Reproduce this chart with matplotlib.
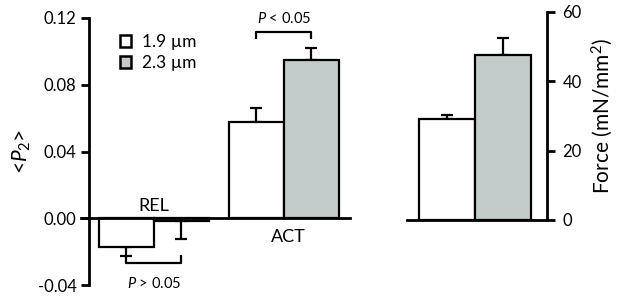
import matplotlib
matplotlib.use("Agg")
import matplotlib.pyplot as plt
from matplotlib.patches import Patch

plt.rcParams['font.family'] = ['Lato', 'DejaVu Sans']
plt.rcParams['mathtext.fontset'] = 'custom'
plt.rcParams['mathtext.rm'] = 'Lato'
plt.rcParams['mathtext.it'] = 'Lato:italic'

# ---- data ----
groups = ["REL", "ACT"]
series_labels = ["1.9 \u00b5m", "2.3 \u00b5m"]
p2_short = [-0.0175, 0.0578]     # 1.9 um
p2_short_err = [0.0053, 0.0080]
p2_long = [-0.0015, 0.0948]      # 2.3 um
p2_long_err = [0.0111, 0.0073]
force = [29.0, 47.6]
force_err = [1.2, 5.0]
left_yticks = [-0.04, 0.00, 0.04, 0.08, 0.12]
right_yticks = [0, 20, 40, 60]

white = "#ffffff"
gray = "#c3cccb"
lw = 1.6

W, H = 617, 296
fig = plt.figure(figsize=(W / 100, H / 100), dpi=100)

# ---- left panel ----
ax = fig.add_axes([89 / W, 1 - 285 / H, (350 - 89) / W, (285 - 18) / H])
width = 0.423
xs = [0, 1]
for i in range(2):
    v1, e1 = p2_short[i], p2_short_err[i]
    v2, e2 = p2_long[i], p2_long_err[i]
    x1 = xs[i] - width / 2
    x2 = xs[i] + width / 2
    ax.bar(x1, v1, width, color=white, edgecolor="black", linewidth=lw, zorder=2)
    ax.bar(x2, v2, width, color=gray, edgecolor="black", linewidth=lw, zorder=2)
    for x, v, e in ((x1, v1, e1), (x2, v2, e2)):
        yerr = [[e], [0]] if v < 0 else [[0], [e]]
        ax.errorbar(x, v, yerr=yerr, fmt="none", ecolor="black", elinewidth=lw,
                    capsize=4.5, capthick=lw, zorder=1)
ax.axhline(0, color="black", lw=2.0, zorder=3, xmin=-0.03, clip_on=False)
ax.set_xlim(-0.5, 1.508)
ax.set_ylim(-0.04, 0.12)
ax.set_yticks(left_yticks)
ax.set_yticklabels([f"{t:.2f}" for t in left_yticks])
ax.set_xticks([])
for s in ("top", "right", "bottom"):
    ax.spines[s].set_visible(False)
ax.spines["left"].set_linewidth(2.0)
ax.tick_params(axis="y", length=6, width=2.0, labelsize=12, pad=3)
ax.set_ylabel(r"<$\mathit{P}_2$>", fontsize=15, labelpad=3)

# group labels
ax.text(xs[0], 0.0075, groups[0], ha="center", va="center", fontsize=13)
ax.text(xs[1] + 0.03, -0.0115, groups[1], ha="center", va="center", fontsize=13)

# significance brackets
bx1 = xs[1] - width / 2
bx2 = xs[1] + width / 2
ax.plot([bx1, bx1, bx2, bx2], [0.1073, 0.1115, 0.1115, 0.1073], color="black", lw=lw,
        solid_capstyle="butt")
ax.text(xs[1], 0.1152, r"$\mathit{P}$ < 0.05", ha="center", va="bottom", fontsize=10.5)
bx1 = xs[0] - width / 2
bx2 = xs[0] + width / 2
ax.plot([bx1, bx1, bx2, bx2], [-0.0222, -0.0270, -0.0270, -0.0222], color="black", lw=lw,
        solid_capstyle="butt")
ax.text(xs[0], -0.0345, r"$\mathit{P}$ > 0.05", ha="center", va="top", fontsize=10.5,
        clip_on=False)

handles = [Patch(facecolor=white, edgecolor="black", linewidth=1.8),
           Patch(facecolor=gray, edgecolor="black", linewidth=1.8)]
ax.legend(handles, series_labels, loc="upper left", bbox_to_anchor=(120 / W, 1 - 34 / H),
          bbox_transform=fig.transFigure, frameon=False, fontsize=12.5,
          handlelength=0.65, handleheight=0.65, handletextpad=0.6, labelspacing=0.3,
          borderpad=0, borderaxespad=0)

# ---- right panel ----
ax2 = fig.add_axes([407 / W, 1 - 220 / H, (547 - 407) / W, (220 - 12) / H])
rx = [0, 1]
ax2.bar(rx[0], force[0], 1.0, color=white, edgecolor="black", linewidth=lw, zorder=2)
ax2.bar(rx[1], force[1], 1.0, color=gray, edgecolor="black", linewidth=lw, zorder=2)
for x, v, e in zip(rx, force, force_err):
    ax2.errorbar(x, v, yerr=[[0], [e]], fmt="none", ecolor="black", elinewidth=lw,
                 capsize=4.5, capthick=lw, zorder=1)
ax2.set_xlim(-0.714, 1.786)
ax2.set_ylim(0, 60)
ax2.set_yticks(right_yticks)
ax2.set_xticks([])
ax2.yaxis.tick_right()
ax2.yaxis.set_label_position("right")
for s in ("top", "left"):
    ax2.spines[s].set_visible(False)
ax2.spines["right"].set_linewidth(2.0)
ax2.spines["bottom"].set_linewidth(2.0)
ax2.tick_params(axis="y", length=6, width=2.0, labelsize=12, pad=5)
ax2.set_ylabel("Force (mN/mm$^2$)", fontsize=15, labelpad=6)

fig.savefig("out.png", dpi=100)
